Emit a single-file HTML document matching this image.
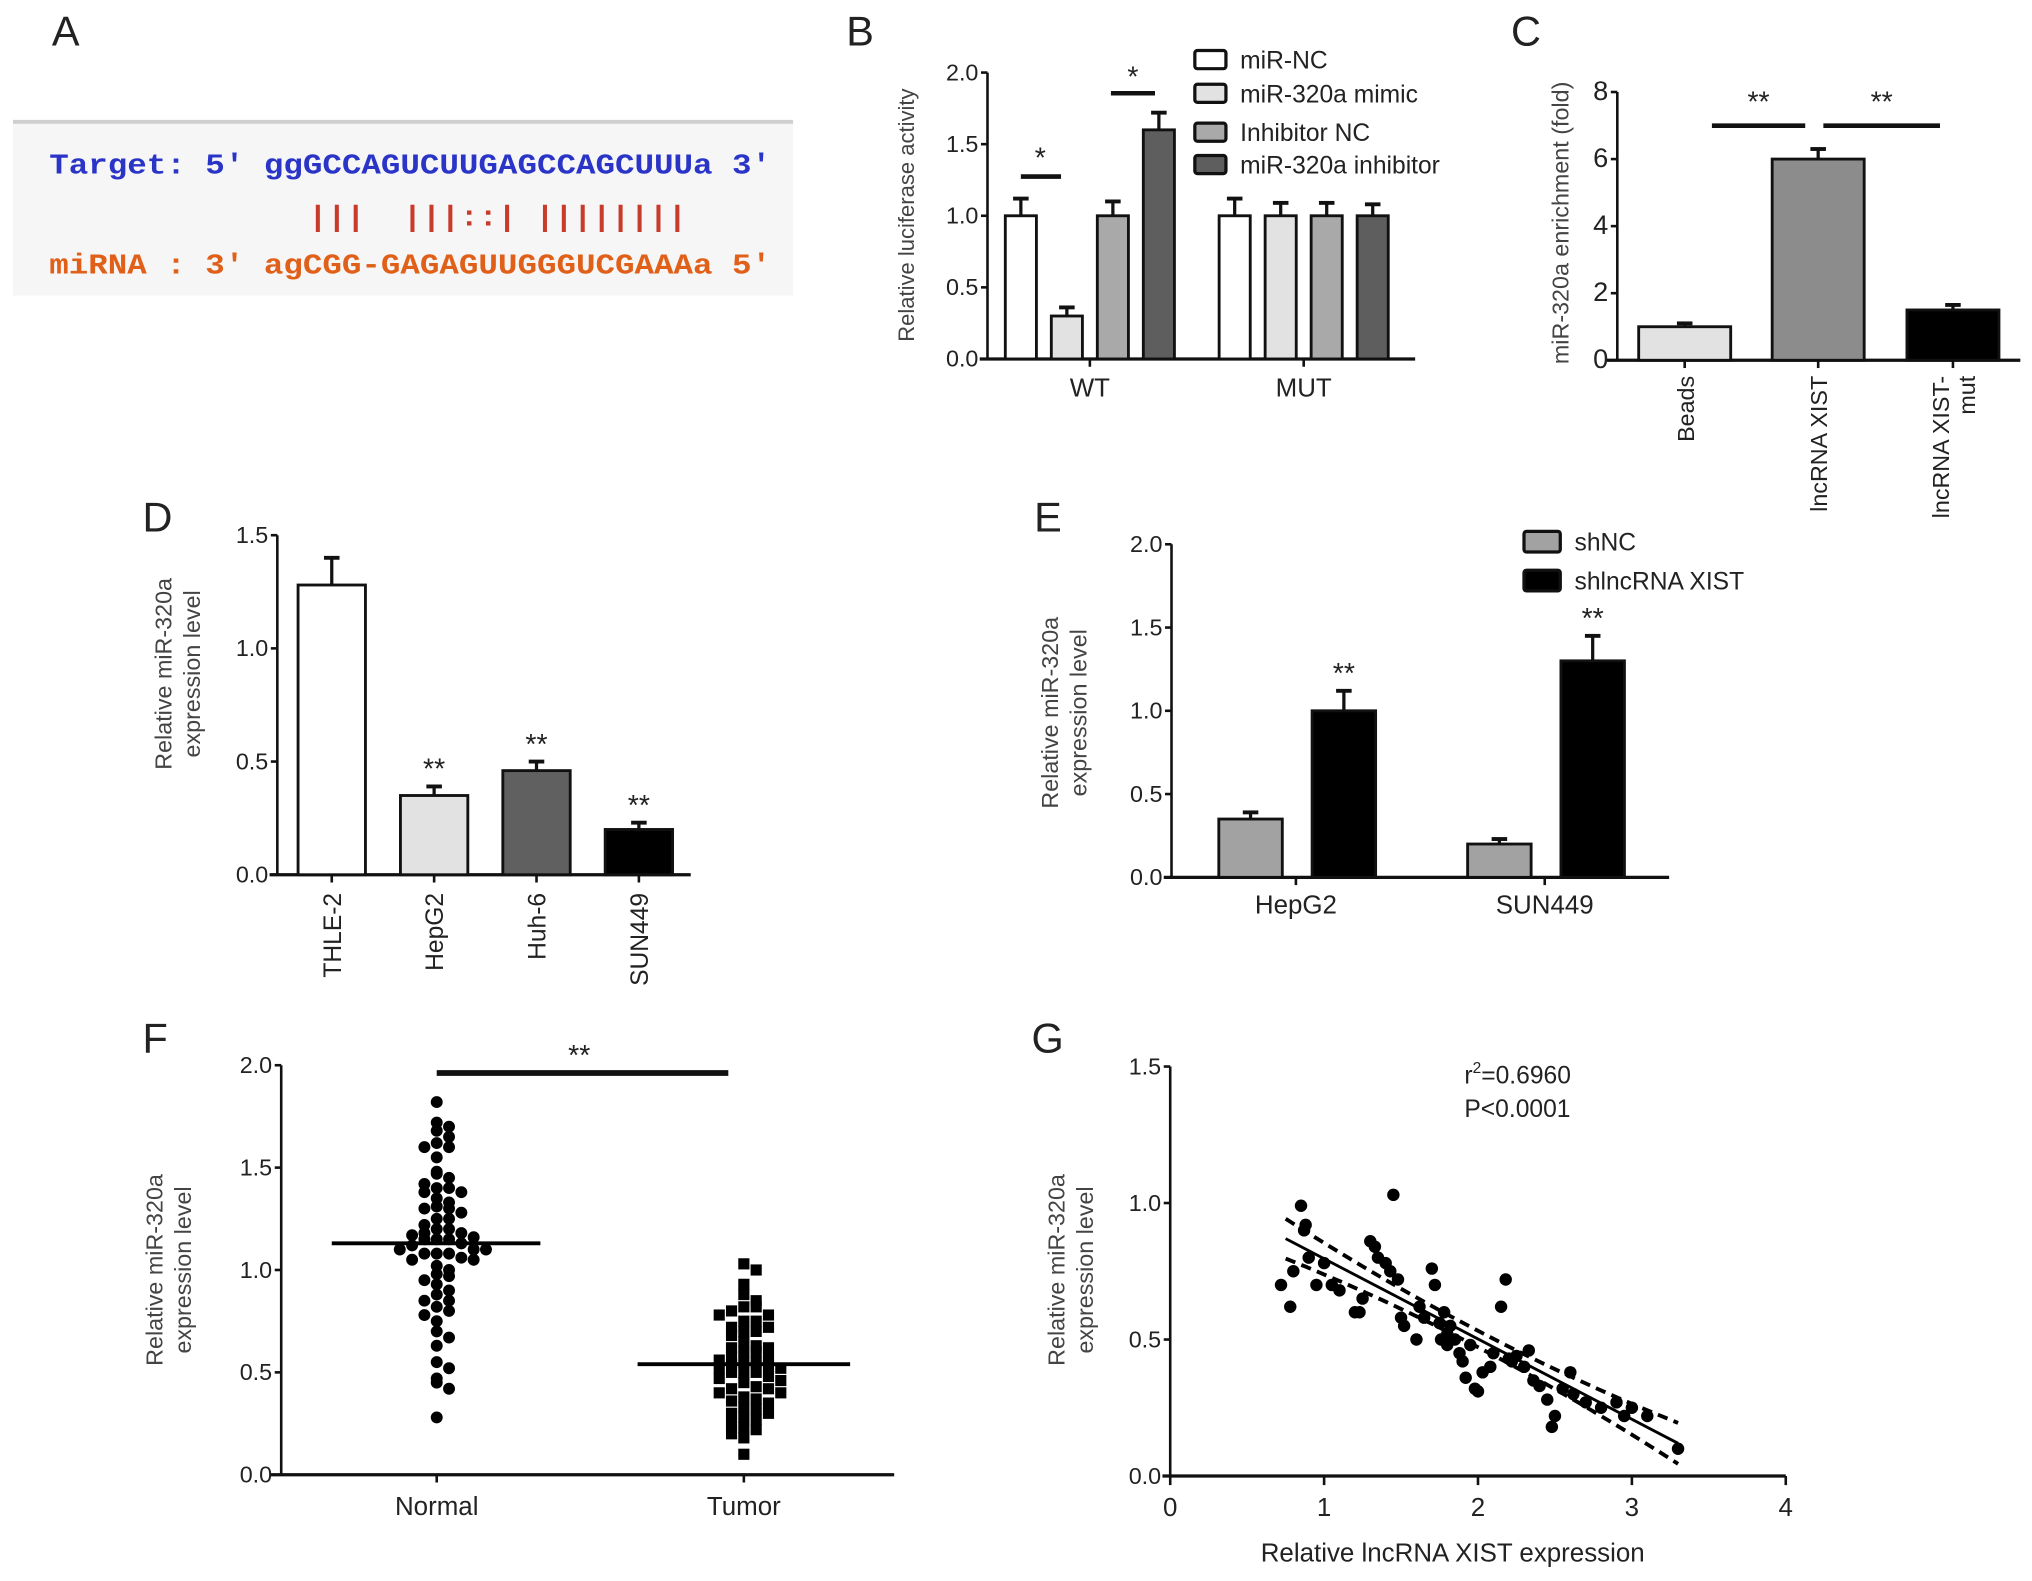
<!DOCTYPE html>
<html><head><meta charset="utf-8">
<style>
html,body{margin:0;padding:0;background:#fff;}
svg{display:block;}
text{font-family:"Liberation Sans Narrow","Liberation Sans",sans-serif;fill:#222;}
.ttl{font-family:"Liberation Sans",sans-serif;}
.mono{font-family:"Liberation Mono",monospace;font-weight:bold;}
</style></head>
<body>
<svg id="fig" width="2032" height="1581" viewBox="0 0 1568 1220" preserveAspectRatio="none" xmlns="http://www.w3.org/2000/svg">
  <g>
    <text x="40" y="35" font-size="32" class="ttl">A</text>
    <rect x="10" y="95" width="602" height="133" fill="#f6f6f6"/>
    <line x1="10" y1="94" x2="612" y2="94" stroke="#cfcfcf" stroke-width="3"/>
    <text x="38" y="134" font-size="22" class="mono" textLength="557" lengthAdjust="spacingAndGlyphs" style="fill:#2a35c8" xml:space="preserve">Target: 5' ggGCCAGUCUUGAGCCAGCUUUa 3'</text>
    <text x="238" y="174" font-size="22" class="mono" textLength="292" lengthAdjust="spacingAndGlyphs" style="fill:#c83a2a" xml:space="preserve">|||  |||::| ||||||||</text>
    <text x="38" y="211" font-size="22" class="mono" textLength="557" lengthAdjust="spacingAndGlyphs" style="fill:#e0601a" xml:space="preserve">miRNA : 3' agCGG-GAGAGUUGGGUCGAAAa 5'</text>
  </g>
</svg>
<script>
// ---------- data ----------
const bGroups = ["WT","MUT"];
const bSeries = ["miR-NC","miR-320a mimic","Inhibitor NC","miR-320a inhibitor"];
const bWT = [1.0,0.3,1.0,1.6];
const bWTerr = [0.12,0.06,0.1,0.12];
const bMUT = [1.0,1.0,1.0,1.0];
const bMUTerr = [0.12,0.09,0.09,0.08];
const bTicks = ["0.0","0.5","1.0","1.5","2.0"];

const cCats = ["Beads","lncRNA XIST","lncRNA XIST-mut"];
const cVals = [1.0,6.0,1.5];
const cErr = [0.1,0.3,0.15];
const cTicks = ["0","2","4","6","8"];

const dCats = ["THLE-2","HepG2","Huh-6","SUN449"];
const dVals = [1.28,0.35,0.46,0.2];
const dErr = [0.12,0.04,0.04,0.03];
const dTicks = ["0.0","0.5","1.0","1.5"];

const eCats = ["HepG2","SUN449"];
const eSeries = ["shNC","shlncRNA XIST"];
const eNC = [0.35,0.2];
const eNCerr = [0.04,0.03];
const eXIST = [1.0,1.3];
const eXISTerr = [0.12,0.15];
const eTicks = ["0.0","0.5","1.0","1.5","2.0"];

const fNormal = [1.82,1.72,1.7,1.68,1.65,1.62,1.6,1.6,1.55,1.48,1.47,1.45,1.42,1.4,1.4,1.38,1.38,1.35,1.33,1.31,1.3,1.3,1.28,1.25,1.25,1.22,1.2,1.2,1.18,1.18,1.17,1.16,1.15,1.15,1.15,1.13,1.12,1.1,1.1,1.1,1.08,1.08,1.08,1.06,1.05,1.05,1.02,1.0,0.98,0.97,0.95,0.93,0.9,0.88,0.85,0.85,0.82,0.8,0.78,0.75,0.7,0.67,0.63,0.55,0.52,0.47,0.45,0.42,0.28];
const fNormalMean = 1.13;
const fTumor = [1.03,1.0,0.93,0.88,0.85,0.82,0.82,0.8,0.78,0.78,0.75,0.75,0.72,0.72,0.7,0.7,0.68,0.65,0.63,0.62,0.62,0.6,0.6,0.58,0.57,0.56,0.55,0.55,0.54,0.53,0.52,0.52,0.5,0.5,0.5,0.48,0.47,0.46,0.45,0.43,0.42,0.42,0.4,0.4,0.38,0.37,0.36,0.35,0.33,0.32,0.3,0.3,0.28,0.27,0.25,0.23,0.22,0.2,0.18,0.1];
const fTumorMean = 0.54;
const fCats = ["Normal","Tumor"];
const fTicks = ["0.0","0.5","1.0","1.5","2.0"];

const gX = [0.72,0.78,0.8,0.85,0.87,0.88,0.9,0.95,1.0,1.05,1.1,1.2,1.23,1.25,1.3,1.33,1.35,1.4,1.43,1.45,1.48,1.5,1.52,1.6,1.62,1.65,1.7,1.72,1.75,1.76,1.78,1.8,1.8,1.82,1.85,1.88,1.9,1.92,1.95,1.98,2.0,2.03,2.08,2.1,2.15,2.18,2.2,2.22,2.25,2.3,2.33,2.36,2.4,2.45,2.48,2.5,2.55,2.6,2.62,2.7,2.8,2.9,2.95,3.0,3.1,3.3];
const gY = [0.7,0.62,0.75,0.99,0.9,0.92,0.8,0.7,0.78,0.7,0.68,0.6,0.6,0.65,0.86,0.84,0.8,0.78,0.75,1.03,0.72,0.58,0.55,0.5,0.62,0.58,0.76,0.7,0.56,0.5,0.6,0.52,0.48,0.55,0.5,0.45,0.42,0.36,0.48,0.32,0.31,0.38,0.4,0.45,0.62,0.72,0.43,0.42,0.44,0.4,0.46,0.35,0.33,0.28,0.18,0.22,0.32,0.38,0.3,0.27,0.25,0.27,0.22,0.25,0.22,0.1];
const gTicksY = ["0.0","0.5","1.0","1.5"];
const gTicksX = ["0","1","2","3","4"];
const gSlope = -0.294, gIntercept = 1.09;

// ---------- helpers ----------
const NS = "http://www.w3.org/2000/svg";
const svg = document.getElementById("fig");
function mk(tag, attrs, parent, txt){
  const el = document.createElementNS(NS, tag);
  for (const k in attrs) el.setAttribute(k, attrs[k]);
  if (txt !== undefined) el.textContent = txt;
  (parent||svg).appendChild(el);
  return el;
}
function group(name){
  const g = mk("g", {});
  
  
  return g;
}
function label(g, t, x, y){
  const el = mk("text",{x:x,y:y,"font-size":32,"class":"ttl"},g,t);
  
  
}
function yAxis(g, x, y0, y1, ticks, fs){
  const l = mk("line",{x1:x,y1:y0,x2:x,y2:y1,stroke:"#111","stroke-width":2},g);
  
  
  ticks.forEach((t,i)=>{
    const y = y0 + (y1-y0)*i/(ticks.length-1);
    mk("line",{x1:x-5,y1:y,x2:x,y2:y,stroke:"#111","stroke-width":2},g);
    const tx = mk("text",{x:x-7,y:y+6,"font-size":fs||18,"text-anchor":"end"},g,t);
    
    
  });
}
function yTitle(g, lines, centers, cy, fs){
  fs = fs||18;
  lines.forEach((ln,i)=>{
    const t = mk("text",{x:0,y:0,"font-size":fs,"text-anchor":"middle","class":"ttl",
      transform:`translate(${centers[i]+fs*0.36},${cy}) rotate(-90)`,style:"fill:#444"},g,ln);
    
    
  });
}
function bar(g, cx, w, yTop, yBase, fill, errTop, name){
  const r = mk("rect",{x:cx-w/2,y:yTop,width:w,height:yBase-yTop,fill:fill,stroke:"#111","stroke-width":2.2},g);
  
  
  mk("line",{x1:cx,y1:yTop,x2:cx,y2:errTop,stroke:"#111","stroke-width":2.5},g);
  mk("line",{x1:cx-6,y1:errTop,x2:cx+6,y2:errTop,stroke:"#111","stroke-width":3},g);
}
function sig(g, x1, x2, y, txt, tx, ty, w){
  const l = mk("line",{x1:x1,y1:y,x2:x2,y2:y,stroke:"#111","stroke-width":w||3.5},g);
  
  
  const t = mk("text",{x:tx,y:ty,"font-size":22,"text-anchor":"middle"},g,txt);
  
  
}
function stars(g, x, y, txt){
  const t = mk("text",{x:x,y:y,"font-size":22,"text-anchor":"middle"},g,txt);
  
  
}

// ---------- Panel B ----------
(function(){
  const g = group("panel-b");
  label(g,"B",653,35);
  const X0=762, Y0=277, Y1=56, ymax=2.0;
  const sy = v => Y0 - (Y0-Y1)*v/ymax;
  yAxis(g,X0,Y0,Y1,bTicks);
  yTitle(g,["Relative luciferase activity"],[699],166,17);
  const xa = mk("line",{x1:X0-6,y1:Y0,x2:1092,y2:Y0,stroke:"#111","stroke-width":2.5},g);
  
  
  const fills = ["#ffffff","#e2e2e2","#a9a9a9","#5e5e5e"];
  const gx = [841, 1006], step = 35.5, bw = 24;
  [bWT,bMUT].forEach((vals,gi)=>{
    const errs = gi===0?bWTerr:bMUTerr;
    vals.forEach((v,i)=>{
      const cx = gx[gi] + (i-1.5)*step;
      bar(g,cx,bw,sy(v),Y0,fills[i],sy(v+errs[i]),"bar-"+bGroups[gi].toLowerCase()+"-"+i);
    });
    mk("line",{x1:gx[gi],y1:Y0,x2:gx[gi],y2:Y0+6,stroke:"#111","stroke-width":2},g);
    const t = mk("text",{x:gx[gi],y:Y0+29,"font-size":20,"text-anchor":"middle"},g,bGroups[gi]);
    
    
  });
  const c = i => gx[0]+(i-1.5)*step;
  sig(g,c(0),c(0)+31,sy(bWT[0]+bWTerr[0])-17,"*",c(0)+15,sy(bWT[0]+bWTerr[0])-24);
  sig(g,c(3)-37,c(3)-3,sy(bWT[3]+bWTerr[3])-15,"*",c(3)-20,sy(bWT[3]+bWTerr[3])-20);
  bSeries.forEach((s,i)=>{
    const ys=[46,72,102,127][i];
    const r = mk("rect",{x:922,y:ys-7,width:24,height:14,rx:2,fill:fills[i],stroke:"#111","stroke-width":2.5},g);
    
    
    const t = mk("text",{x:957,y:ys+7,"font-size":19},g,s);
    
    
  });
})();

// ---------- Panel C ----------
(function(){
  const g = group("panel-c");
  label(g,"C",1166,35);
  const X0=1248, Y0=278, Y1=71, ymax=8;
  const sy = v => Y0 - (Y0-Y1)*v/ymax;
  yAxis(g,X0,Y0,Y1,cTicks,21);
  yTitle(g,["miR-320a enrichment (fold)"],[1204],172,18);
  const xa = mk("line",{x1:1240,y1:Y0,x2:1559,y2:Y0,stroke:"#111","stroke-width":2.5},g);
  
  
  const cx = [1300,1403,1507], fills=["#e2e2e2","#8c8c8c","#000000"];
  cVals.forEach((v,i)=>{
    bar(g,cx[i],71,sy(v),Y0,fills[i],sy(v+cErr[i]),"bar-"+i);
    mk("line",{x1:cx[i],y1:Y0,x2:cx[i],y2:Y0+6,stroke:"#111","stroke-width":2},g);
  });
  const labs = [["Beads"],["lncRNA XIST"],["lncRNA XIST-","mut"]];
  labs.forEach((ls,i)=>{
    ls.forEach((l,j)=>{
      const xx = cx[i]+7 + (ls.length>1 ? (j-0.5)*20 : 0);
      const t = mk("text",{x:0,y:0,"font-size":18,"text-anchor":"end","class":"ttl",
        transform:`translate(${xx},${Y0+12}) rotate(-90)`},g,l);
      
      
    });
  });
  sig(g,1321,1393,97,"**",1357,86);
  sig(g,1407,1497,97,"**",1452,86);
})();

// ---------- Panel D ----------
(function(){
  const g = group("panel-d");
  label(g,"D",110,410);
  const X0=214, Y0=675, Y1=413, ymax=1.5;
  const sy = v => Y0 - (Y0-Y1)*v/ymax;
  yAxis(g,X0,Y0,Y1,dTicks);
  yTitle(g,["Relative miR-320a","expression level"],[126,148],520);
  const xa = mk("line",{x1:X0-6,y1:Y0,x2:533,y2:Y0,stroke:"#111","stroke-width":2.5},g);
  
  
  const cx=[256,335,414,493], fills=["#ffffff","#e2e2e2","#606060","#000000"];
  dVals.forEach((v,i)=>{
    bar(g,cx[i],52,sy(v),Y0,fills[i],sy(v+dErr[i]),"bar-"+dCats[i].toLowerCase());
    mk("line",{x1:cx[i],y1:Y0,x2:cx[i],y2:Y0+6,stroke:"#111","stroke-width":2},g);
    if(i>0) stars(g,cx[i],sy(v+dErr[i])-6,"**");
    const t = mk("text",{x:0,y:0,"font-size":19,"text-anchor":"end",
      transform:`translate(${cx[i]+7},${Y0+14}) rotate(-90)`},g,dCats[i]);
    
    
  });
})();

// ---------- Panel E ----------
(function(){
  const g = group("panel-e");
  label(g,"E",798,410);
  const X0=904, Y0=677, Y1=420, ymax=2.0;
  const sy = v => Y0 - (Y0-Y1)*v/ymax;
  yAxis(g,X0,Y0,Y1,eTicks);
  yTitle(g,["Relative miR-320a","expression level"],[810,832],550);
  const xa = mk("line",{x1:X0-6,y1:Y0,x2:1288,y2:Y0,stroke:"#111","stroke-width":2.5},g);
  
  
  const gx=[1000,1192];
  eCats.forEach((c,i)=>{
    bar(g,gx[i]-35,49,sy(eNC[i]),Y0,"#a2a2a2",sy(eNC[i]+eNCerr[i]),"bar-shnc-"+c.toLowerCase());
    bar(g,gx[i]+37,49,sy(eXIST[i]),Y0,"#000000",sy(eXIST[i]+eXISTerr[i]),"bar-shxist-"+c.toLowerCase());
    stars(g,gx[i]+37,sy(eXIST[i]+eXISTerr[i])-6,"**");
    mk("line",{x1:gx[i],y1:Y0,x2:gx[i],y2:Y0+6,stroke:"#111","stroke-width":2},g);
    const t = mk("text",{x:gx[i],y:Y0+28,"font-size":20,"text-anchor":"middle"},g,c);
    
    
  });
  eSeries.forEach((s,i)=>{
    const ys=[418,448][i];
    const r = mk("rect",{x:1176,y:ys-8,width:28,height:16,rx:2,fill:i?"#000":"#a2a2a2",stroke:"#111","stroke-width":2.5},g);
    
    
    const t = mk("text",{x:1215,y:ys+7,"font-size":19},g,s);
    
    
  });
})();

// ---------- Panel F ----------
(function(){
  const g = group("panel-f");
  label(g,"F",110,812);
  const X0=217, Y0=1138, Y1=822, ymax=2.0;
  const sy = v => Y0 - (Y0-Y1)*v/ymax;
  yAxis(g,X0,Y0,Y1,fTicks);
  yTitle(g,["Relative miR-320a","expression level"],[119,141],980);
  const xa = mk("line",{x1:X0-8,y1:Y0,x2:690,y2:Y0,stroke:"#111","stroke-width":2.5},g);
  
  
  const cx=[337,574];
  function swarm(vals, c, square, nm){
    const rows = {};
    vals.forEach(v=>{
      const y = sy(v);
      const key = Math.round(y/8.5);
      const n = rows[key] = (rows[key]||0)+1;
      const k = n-1;
      const off = (k===0?0:(k%2? 1:-1)*Math.ceil(k/2))*9.5;
      let m;
      if(square) m = mk("rect",{x:c+off-4.3,y:y-4.3,width:8.6,height:8.6,fill:"#000"},g);
      else m = mk("circle",{cx:c+off,cy:y,r:4.6,fill:"#000"},g);
      
      
    });
  }
  swarm(fNormal,cx[0],false,"point-normal");
  swarm(fTumor,cx[1],true,"point-tumor");
  const m1 = mk("line",{x1:cx[0]-81,y1:sy(fNormalMean),x2:cx[0]+80,y2:sy(fNormalMean),stroke:"#000","stroke-width":3},g);
  
  
  const m2 = mk("line",{x1:cx[1]-82,y1:sy(fTumorMean),x2:cx[1]+82,y2:sy(fTumorMean),stroke:"#000","stroke-width":3},g);
  
  
  fCats.forEach((c,i)=>{
    mk("line",{x1:cx[i],y1:Y0,x2:cx[i],y2:Y0+6,stroke:"#111","stroke-width":2},g);
    const t = mk("text",{x:cx[i],y:Y0+31,"font-size":20,"text-anchor":"middle"},g,c);
    
    
  });
  sig(g,337,562,828,"**",447,822,4.5);
})();

// ---------- Panel G ----------
(function(){
  const g = group("panel-g");
  label(g,"G",796,812);
  const X0=903, X1=1378, Y0=1139, Y1=823;
  const sx = v => X0 + (X1-X0)*v/4;
  const sy = v => Y0 - (Y0-Y1)*v/1.5;
  yAxis(g,X0,Y0,Y1,gTicksY);
  yTitle(g,["Relative miR-320a","expression level"],[815,837],980);
  const xa = mk("line",{x1:X0-6,y1:Y0,x2:X1,y2:Y0,stroke:"#111","stroke-width":2.5},g);
  
  
  gTicksX.forEach((t,i)=>{
    const x = sx(i);
    mk("line",{x1:x,y1:Y0,x2:x,y2:Y0+7,stroke:"#111","stroke-width":2},g);
    const tx = mk("text",{x:x,y:Y0+31,"font-size":20,"text-anchor":"middle"},g,t);
    
    
  });
  const xt = mk("text",{x:1121,y:1205,"font-size":20,"text-anchor":"middle"},g,"Relative lncRNA XIST expression");
  
  
  gX.forEach((x,i)=>{
    const c = mk("circle",{cx:sx(x),cy:sy(gY[i]),r:4.8,fill:"#000"},g);
    
    
  });
  const xa0 = Math.min(...gX), xa1 = Math.max(...gX), xm = (xa0+xa1)/2;
  const fit = x => gSlope*x + gIntercept;
  const rl = mk("line",{x1:sx(xa0+0.03),y1:sy(fit(xa0+0.03)),x2:sx(xa1),y2:sy(fit(xa1)),stroke:"#000","stroke-width":2.2},g);
  
  
  [1,-1].forEach(s=>{
    let d="";
    for(let k=0;k<=20;k++){
      const x = xa0+0.03 + (xa1-xa0-0.03)*k/20;
      const h = 0.03 + 0.045*Math.pow((x-xm)/(xa1-xm),2);
      d += (k?"L":"M")+sx(x).toFixed(1)+","+sy(fit(x)+s*h).toFixed(1);
    }
    const p = mk("path",{d:d,fill:"none",stroke:"#000","stroke-width":3,"stroke-dasharray":"8,5"},g);
    
    
  });
  const r2 = mk("text",{x:1130,y:836,"font-size":19},g);
  
  
  mk("tspan",{},r2,"r");
  mk("tspan",{dy:-8,"font-size":12},r2,"2");
  mk("tspan",{dy:8},r2,"=0.6960");
  const pv = mk("text",{x:1130,y:862,"font-size":19},g,"P<0.0001");
  
  
})();
</script>
</body></html>
